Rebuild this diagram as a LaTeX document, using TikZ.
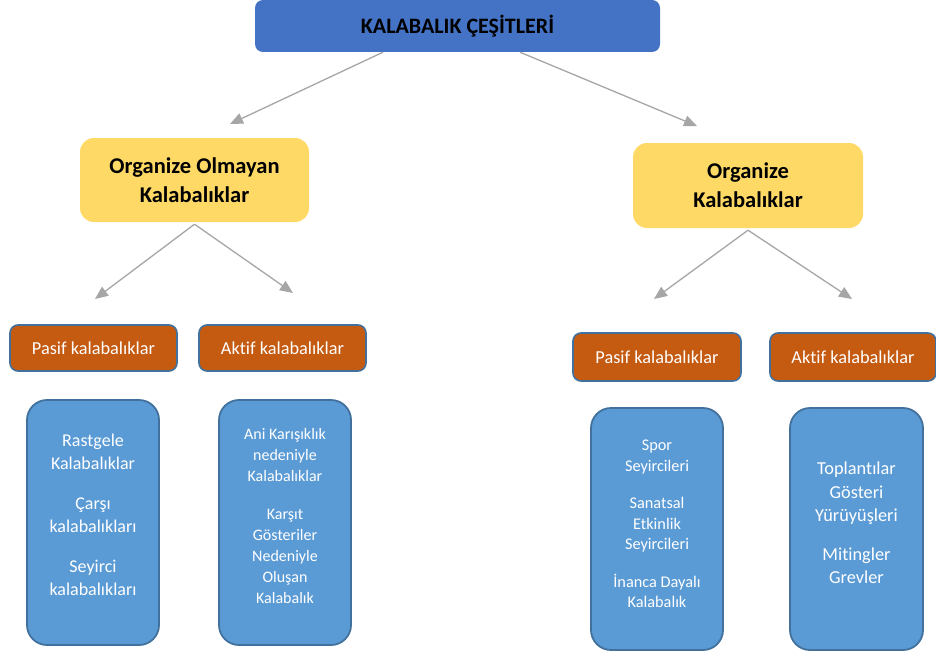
\documentclass[tikz,border=0pt]{standalone}
\usepackage{fontspec}
\setmainfont[Ligatures=NoCommon]{Carlito}
\usetikzlibrary{arrows.meta}
\definecolor{topblue}{HTML}{4472C4}
\definecolor{yel}{HTML}{FFD966}
\definecolor{orng}{HTML}{C55A11}
\definecolor{lblue}{HTML}{5B9BD5}
\definecolor{bord}{HTML}{41719C}
\definecolor{arrgray}{HTML}{A6A6A6}
\begin{document}
\begin{tikzpicture}[x=1pt,y=-1pt,
  topbox/.style={fill=topblue, rounded corners=8pt, draw=none, text=black,
    font=\bfseries\fontsize{22}{26}\selectfont},
  yelbox/.style={fill=yel, rounded corners=14pt, draw=none, text=black, align=center,
    font=\bfseries\fontsize{22.5}{29}\selectfont},
  orbox/.style={fill=orng, draw=bord, line width=1.6pt, rounded corners=8pt, text=white,
    minimum height=46pt, font=\fontsize{18.3}{22}\selectfont},
  blbox/.style={fill=lblue, draw=bord, line width=1.8pt, rounded corners=20pt},
  bltext/.style={text=white, align=center, inner sep=0pt},
  arr/.style={draw=arrgray, line width=1.3pt, -{Triangle[length=13pt,width=11pt]}}
]
\useasboundingbox (0,0) rectangle (936,658);

\node[topbox, minimum width=405pt, minimum height=52pt] (top) at (457.5,26) {KALABALIK ÇEŞİTLERİ};

\node[yelbox, minimum width=229pt, minimum height=84pt] (ly) at (194.5,180) {Organize Olmayan\\Kalabalıklar};
\node[yelbox, minimum width=230pt, minimum height=85pt] (ry) at (748,185.5) {Organize\\Kalabalıklar};

\node[orbox, minimum width=167pt] (lp) at (93.5,348) {Pasif kalabalıklar};
\node[orbox, minimum width=167pt] (la) at (282.5,348) {Aktif kalabalıklar};
\node[orbox, minimum width=168pt, minimum height=48pt] (rp) at (657,357) {Pasif kalabalıklar};
\node[orbox, minimum width=166pt, minimum height=48pt] (ra) at (853,357) {Aktif kalabalıklar};

\node[blbox, minimum width=132pt, minimum height=245pt] (b1) at (93,522.5) {};
\node[blbox, minimum width=132pt, minimum height=245pt] (b2) at (285,522.5) {};
\node[blbox, minimum width=132pt, minimum height=242pt] (b3) at (657,529) {};
\node[blbox, minimum width=133pt, minimum height=242pt] (b4) at (856.5,529) {};

\node[bltext, font=\fontsize{18}{23}\selectfont] (t1) at (93,515)
  {Rastgele\\Kalabalıklar\\[17pt]Çarşı\\kalabalıkları\\[17pt]Seyirci\\kalabalıkları};
\node[bltext, font=\fontsize{16}{21}\selectfont] (t2) at (285,516)
  {Ani Karışıklık\\nedeniyle\\Kalabalıklar\\[17pt]Karşıt\\Gösteriler\\Nedeniyle\\Oluşan\\Kalabalık};
\node[bltext, font=\fontsize{16.3}{20.5}\selectfont] (t3) at (657,524)
  {Spor\\Seyircileri\\[17pt]Sanatsal\\Etkinlik\\Seyircileri\\[17pt]İnanca Dayalı\\Kalabalık};
\node[bltext, font=\fontsize{18.3}{23.5}\selectfont] (t4) at (856.5,523)
  {Toplantılar\\Gösteri\\Yürüyüşleri\\[15pt]Mitingler\\Grevler};

\coordinate (a1) at (230,124);
\coordinate (a2) at (697,126);
\coordinate (a3) at (95,299);
\coordinate (a4) at (293,293);
\coordinate (a5) at (654,299);
\coordinate (a6) at (852,299);

\draw[arr] ([xshift=-74.5pt]top.south) -- (a1);
\draw[arr] ([xshift=62.5pt]top.south) -- (a2);
\draw[arr] ([yshift=-2pt]ly.south) -- (a3);
\draw[arr] ([yshift=-2pt]ly.south) -- (a4);
\draw[arr] ([yshift=-2pt]ry.south) -- (a5);
\draw[arr] ([yshift=-2pt]ry.south) -- (a6);
\end{tikzpicture}
\end{document}
